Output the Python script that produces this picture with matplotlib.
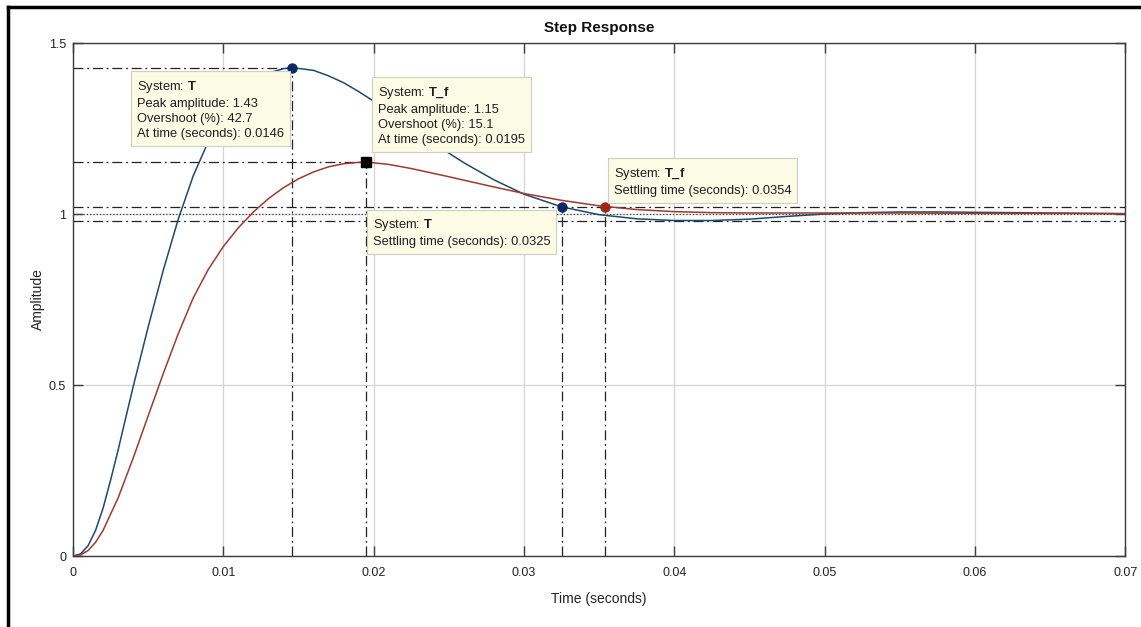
import matplotlib.pyplot as plt
from matplotlib.lines import Line2D

# --- data (step responses) ---
t_T = [0, 0.0005, 0.001, 0.0015, 0.002, 0.0025, 0.003, 0.0035, 0.004, 0.005,
       0.006, 0.007, 0.008, 0.009, 0.010, 0.011, 0.012, 0.013, 0.014, 0.0146,
       0.016, 0.017, 0.018, 0.019, 0.020, 0.022, 0.024, 0.026, 0.028, 0.030,
       0.0325, 0.035, 0.0375, 0.040, 0.0425, 0.045, 0.0475, 0.050, 0.0525,
       0.055, 0.0575, 0.060, 0.065, 0.070]
y_T = [0, 0.006, 0.03, 0.075, 0.14, 0.222, 0.31, 0.403, 0.495, 0.67,
       0.835, 0.985, 1.112, 1.212, 1.288, 1.345, 1.386, 1.412, 1.425, 1.428,
       1.420, 1.404, 1.384, 1.358, 1.330, 1.268, 1.206, 1.150, 1.100, 1.058,
       1.021, 0.998, 0.986, 0.981, 0.981, 0.985, 0.993, 1.000, 1.004,
       1.006, 1.006, 1.005, 1.003, 1.001]

t_Tf = [0, 0.0005, 0.001, 0.0015, 0.002, 0.003, 0.004, 0.005, 0.006, 0.007,
        0.008, 0.009, 0.010, 0.011, 0.012, 0.013, 0.014, 0.015, 0.016, 0.017,
        0.018, 0.019, 0.0195, 0.021, 0.0225, 0.025, 0.0275, 0.030, 0.0325,
        0.035, 0.0375, 0.040, 0.0425, 0.045, 0.050, 0.055, 0.060, 0.065, 0.070]
y_Tf = [0, 0.003, 0.016, 0.04, 0.075, 0.17, 0.286, 0.41, 0.533, 0.65,
        0.755, 0.838, 0.905, 0.96, 1.006, 1.045, 1.077, 1.103, 1.123, 1.138,
        1.147, 1.151, 1.152, 1.145, 1.133, 1.109, 1.084, 1.060, 1.040,
        1.024, 1.013, 1.007, 1.004, 1.003, 1.003, 1.003, 1.002, 1.002, 1.001]

# characteristics reported by the data tips
peak_T = (0.0146, 1.428)
peak_Tf = (0.0195, 1.152)
settle_T = (0.0325, 1.021)
settle_Tf = (0.0354, 1.021)
band = [0.98, 1.02]
final_value = 1.0

xticks = [0, 0.01, 0.02, 0.03, 0.04, 0.05, 0.06, 0.07]
xticklabels = ['0', '0.01', '0.02', '0.03', '0.04', '0.05', '0.06', '0.07']
yticks = [0, 0.5, 1, 1.5]
yticklabels = ['0', '0.5', '1', '1.5']

plt.rcParams['font.family'] = ['Liberation Sans', 'DejaVu Sans']
plt.rcParams['mathtext.fontset'] = 'custom'
plt.rcParams['mathtext.rm'] = 'Liberation Sans'
plt.rcParams['mathtext.bf'] = 'Liberation Sans:bold'

blue = '#1b4a70'
red = '#9c3b2c'
axis_col = '#3c3c3c'

fig = plt.figure(figsize=(11.41, 6.27), dpi=100)
fig.patch.set_facecolor('white')
ax = fig.add_axes([0.064, 0.1132, 0.9222, 0.8182])

ax.set_xlim(0, 0.07)
ax.set_ylim(0, 1.5)
ax.set_xticks(xticks)
ax.set_xticklabels(xticklabels)
ax.set_yticks(yticks)
ax.set_yticklabels(yticklabels)
ax.grid(True, color='#d4d4d4', linewidth=0.9, linestyle='-')
ax.set_axisbelow(True)
ax.tick_params(direction='in', length=7.5, width=1, colors=axis_col,
               labelcolor='#222222', labelsize=9, top=True, right=True)
ax.tick_params(axis='x', pad=8)
ax.tick_params(axis='y', pad=5)
for s in ax.spines.values():
    s.set_color(axis_col)
    s.set_linewidth(1)

# reference lines of the characteristics
dd = dict(color='#222222', linestyle='-.', linewidth=0.9, dashes=(8, 3, 1.5, 3))
ax.plot([0, peak_T[0]], [peak_T[1], peak_T[1]], **dd)
ax.plot([peak_T[0], peak_T[0]], [0, peak_T[1]], **dd)
ax.plot([0, peak_Tf[0]], [peak_Tf[1], peak_Tf[1]], **dd)
ax.plot([peak_Tf[0], peak_Tf[0]], [0, peak_Tf[1]], **dd)
for b in band:
    ax.plot([0, 0.07], [b, b], **dd)
ax.plot([settle_T[0], settle_T[0]], [0, settle_T[1]], **dd)
ax.plot([settle_Tf[0], settle_Tf[0]], [0, settle_Tf[1]], **dd)
ax.plot([0, 0.07], [final_value, final_value], color='#444444', linestyle=':', linewidth=0.9)

# responses
ax.plot(t_T, y_T, color=blue, linewidth=1.1, zorder=4)
ax.plot(t_Tf, y_Tf, color=red, linewidth=1.1, zorder=4)

# data tip markers
ax.plot(*peak_T, 'o', color='#0c2a66', markersize=6.5, zorder=6)
ax.plot(*settle_T, 'o', color='#0c2a66', markersize=6.5, zorder=6)
ax.plot(*settle_Tf, 'o', color='#a0261a', markersize=6.5, zorder=6)
ax.plot(*peak_Tf, 's', color='black', markersize=7.5, zorder=6)

box = dict(boxstyle='square,pad=0.45', facecolor='#fcfce6', edgecolor='#cfcfbf', linewidth=0.8)
tip = dict(transform=ax.transAxes, ha='left', va='top', fontsize=9.3,
           color='#1e1e1e', bbox=box, zorder=8, linespacing=1.33)
ax.text(0.0608, 0.930,
        'System: $\\mathbf{T}$\nPeak amplitude: 1.43\nOvershoot (%): 42.7\nAt time (seconds): 0.0146',
        **tip)
ax.text(0.2898, 0.918,
        'System: $\\mathbf{T\\_f}$\nPeak amplitude: 1.15\nOvershoot (%): 15.1\nAt time (seconds): 0.0195',
        **tip)
ax.text(0.2851, 0.660,
        'System: $\\mathbf{T}$\nSettling time (seconds): 0.0325', **tip)
ax.text(0.5141, 0.760,
        'System: $\\mathbf{T\\_f}$\nSettling time (seconds): 0.0354', **tip)

ax.set_title('Step Response', fontsize=11, fontweight='bold', color='#111111', pad=8)
ax.set_xlabel('Time (seconds)', fontsize=10, color='#222222', labelpad=9)
ax.set_ylabel('Amplitude', fontsize=10, color='#222222', labelpad=3)

# frame of the original screenshot (top and left edges only)
fig.add_artist(Line2D([8 / 1141, 8 / 1141], [0, 1 - 7 / 627], transform=fig.transFigure,
                      color='black', linewidth=2.5))
fig.add_artist(Line2D([8 / 1141, 1], [1 - 7 / 627, 1 - 7 / 627], transform=fig.transFigure,
                      color='black', linewidth=2.5))

fig.savefig('out.png', dpi=100)
